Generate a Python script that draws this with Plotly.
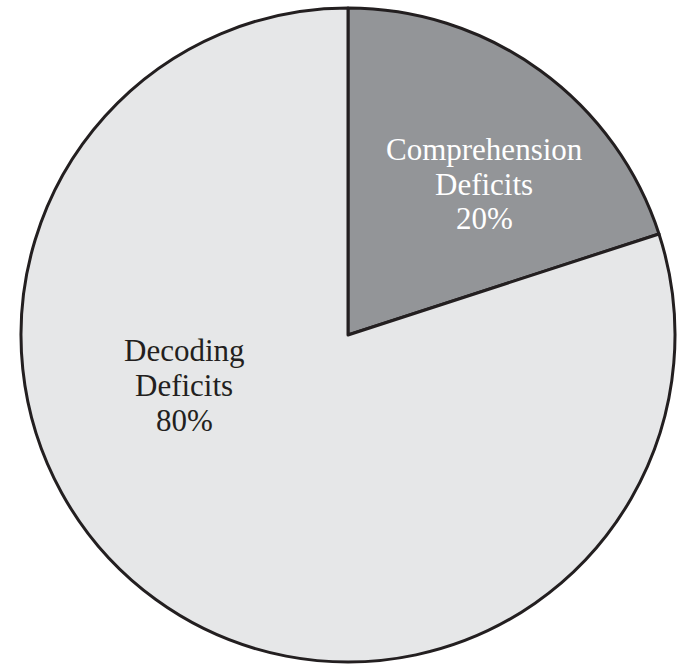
import plotly.graph_objects as go

categories = ["Comprehension<br>Deficits", "Decoding<br>Deficits"]
values = [20, 80]
colors = ["#939598", "#e6e7e8"]
text_colors = ["#ffffff", "#231f20"]
label_pos = [(484, 149), (184, 350)]  # pixel centre of first label line

W, H = 678, 666
cx, cy, r = 348, 335, 327
line_gap = 35

fig = go.Figure(
    go.Pie(
        labels=categories,
        values=values,
        sort=False,
        direction="clockwise",
        rotation=0,
        marker=dict(colors=colors, line=dict(color="#231f20", width=3)),
        textinfo="none",
        hoverinfo="label+percent",
        domain=dict(x=[(cx - r) / W, (cx + r) / W], y=[1 - (cy + r) / H, 1 - (cy - r) / H]),
    )
)

total = sum(values)
for lab, v, col, (px, py) in zip(categories, values, text_colors, label_pos):
    lines = lab.split("<br>") + [f"{round(100 * v / total)}%"]
    for i, line in enumerate(lines):
        fig.add_annotation(
            x=px / W, y=1 - (py + i * line_gap) / H, xref="paper", yref="paper",
            text=line,
            showarrow=False, xanchor="center", yanchor="middle",
            font=dict(family="Liberation Serif", size=31, color=col),
        )

fig.update_layout(
    width=W,
    height=H,
    margin=dict(l=0, r=0, t=0, b=0),
    paper_bgcolor="white",
    plot_bgcolor="white",
    showlegend=False,
)

fig.write_html("out.html")
